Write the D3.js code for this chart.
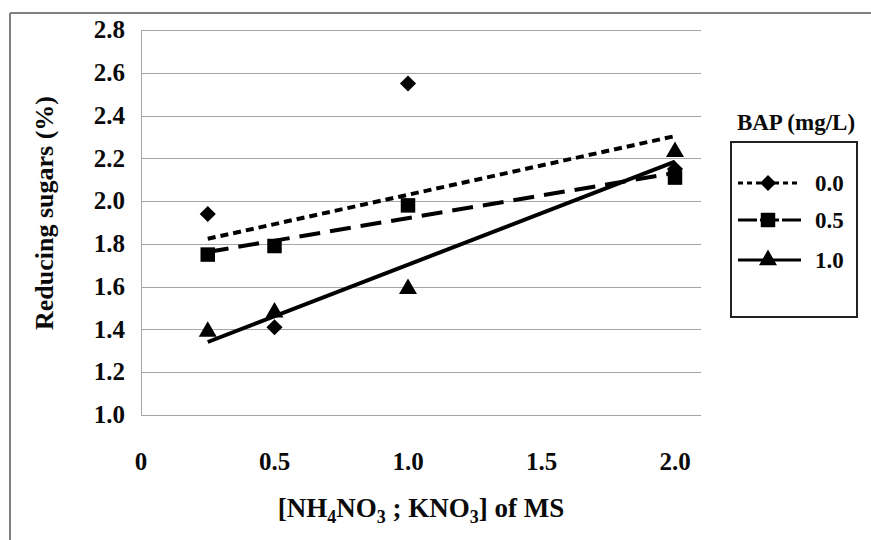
<!DOCTYPE html>
<html>
<head>
<meta charset="utf-8">
<script src="https://cdn.jsdelivr.net/npm/d3@7"></script>
<style>
  body { margin: 0; background: #fff; }
  text { font-family: "Liberation Serif", "Times New Roman", serif; font-weight: bold; fill: #0a0a0a; }
</style>
</head>
<body>
<script>
var width = 871, height = 540;

// data
var nitrate = [0.25, 0.5, 1.0, 2.0];
var bap = ["0.0", "0.5", "1.0"];
var sugars00 = [1.94, 1.41, 2.55, 2.15];
var sugars05 = [1.75, 1.79, 1.98, 2.11];
var sugars10 = [1.39, 1.48, 1.59, 2.23];
var yTicks = [1.0, 1.2, 1.4, 1.6, 1.8, 2.0, 2.2, 2.4, 2.6, 2.8];
var xTicks = [0, 0.5, 1.0, 1.5, 2.0];

var diamond = {
  draw: function(ctx, size) {
    var r = Math.sqrt(size / 2);
    ctx.moveTo(0, -r); ctx.lineTo(r, 0); ctx.lineTo(0, r); ctx.lineTo(-r, 0); ctx.closePath();
  }
};

var series = [
  { name: bap[0], values: sugars00, symbol: diamond, size: 130, dash: "8,5", legDash: "5,4" },
  { name: bap[1], values: sugars05, symbol: d3.symbolSquare, size: 210, dash: "21,10", legDash: "19,3" },
  { name: bap[2], values: sugars10, symbol: d3.symbolTriangle, size: 140, dash: null, legDash: null }
];

var svg = d3.select("body").append("svg")
    .attr("width", width)
    .attr("height", height);

// outer frame (top + left only visible)
svg.append("line").attr("x1", 10).attr("x2", width).attr("y1", 13).attr("y2", 13)
   .attr("stroke", "#808080").attr("stroke-width", 2);
svg.append("line").attr("x1", 10).attr("x2", 10).attr("y1", 13).attr("y2", height)
   .attr("stroke", "#808080").attr("stroke-width", 2);

var x = d3.scaleLinear().domain([0, 2.0]).range([141, 675]);
var y = d3.scaleLinear().domain([1.0, 2.8]).range([415, 30]);
var plotRight = 701;

// gridlines
svg.append("g").selectAll("line")
  .data(yTicks)
  .enter().append("line")
  .attr("x1", x(0)).attr("x2", plotRight)
  .attr("y1", function(d) { return Math.round(y(d)) + 0.5; })
  .attr("y2", function(d) { return Math.round(y(d)) + 0.5; })
  .attr("stroke", "#a6a6a6").attr("stroke-width", 1);

svg.append("line")
  .attr("x1", x(0) + 0.5).attr("x2", x(0) + 0.5)
  .attr("y1", y(2.8)).attr("y2", y(1.0))
  .attr("stroke", "#a6a6a6").attr("stroke-width", 1);

// y tick labels
svg.append("g").selectAll("text")
  .data(yTicks)
  .enter().append("text")
  .attr("x", 125)
  .attr("y", function(d) { return y(d); })
  .attr("dy", "0.33em")
  .attr("text-anchor", "end")
  .attr("font-size", "25px")
  .text(function(d) { return d.toFixed(1); });

// x tick labels
svg.append("g").selectAll("text")
  .data(xTicks)
  .enter().append("text")
  .attr("x", function(d) { return x(d); })
  .attr("y", 462)
  .attr("dy", "0.33em")
  .attr("text-anchor", "middle")
  .attr("font-size", "25px")
  .text(function(d) { return d === 0 ? "0" : d.toFixed(1); });

// axis titles
svg.append("text")
  .attr("transform", "translate(53,213) rotate(-90)")
  .attr("text-anchor", "middle")
  .attr("font-size", "26px")
  .text("Reducing sugars (%)");

var xt = svg.append("text")
  .attr("x", 421).attr("y", 517)
  .attr("text-anchor", "middle")
  .attr("font-size", "27px");
xt.append("tspan").text("[NH");
xt.append("tspan").attr("font-size", "18px").attr("dy", 6).text("4");
xt.append("tspan").attr("dy", -6).text("NO");
xt.append("tspan").attr("font-size", "18px").attr("dy", 6).text("3");
xt.append("tspan").attr("dy", -6).text(" ; KNO");
xt.append("tspan").attr("font-size", "18px").attr("dy", 6).text("3");
xt.append("tspan").attr("dy", -6).text("] of MS");

// linear trendlines (least squares)
function fit(xs, ys) {
  var mx = d3.mean(xs), my = d3.mean(ys);
  var sxy = d3.sum(xs, function(v, i) { return (v - mx) * (ys[i] - my); });
  var sxx = d3.sum(xs, function(v) { return (v - mx) * (v - mx); });
  var b = sxy / sxx;
  return function(v) { return my + b * (v - mx); };
}

series.forEach(function(s) {
  var f = fit(nitrate, s.values);
  var x0 = d3.min(nitrate), x1 = d3.max(nitrate);
  svg.append("line")
    .attr("x1", x(x0)).attr("y1", y(f(x0)))
    .attr("x2", x(x1)).attr("y2", y(f(x1)))
    .attr("stroke", "#000")
    .attr("stroke-width", 4)
    .attr("stroke-dasharray", s.dash);
});

// markers
series.forEach(function(s) {
  svg.append("g").selectAll("path")
    .data(s.values)
    .enter().append("path")
    .attr("transform", function(d, i) {
      return "translate(" + x(nitrate[i]) + "," + y(d) + ")";
    })
    .attr("d", d3.symbol().type(s.symbol).size(s.size))
    .attr("fill", "#000");
});

// legend
svg.append("text")
  .attr("x", 796).attr("y", 130)
  .attr("text-anchor", "middle")
  .attr("font-size", "23px")
  .text("BAP (mg/L)");

svg.append("rect")
  .attr("x", 731).attr("y", 142)
  .attr("width", 126).attr("height", 175)
  .attr("fill", "none")
  .attr("stroke", "#222")
  .attr("stroke-width", 2);

var leg = svg.append("g").selectAll("g")
  .data(series)
  .enter().append("g")
  .attr("transform", function(d, i) {
    return "translate(0," + [183, 220, 260][i] + ")";
  });

leg.append("line")
  .attr("x1", 738).attr("x2", 801)
  .attr("y1", 0).attr("y2", 0)
  .attr("stroke", "#000")
  .attr("stroke-width", 3)
  .attr("stroke-dasharray", function(d) { return d.legDash; });

leg.append("path")
  .attr("transform", "translate(768,0)")
  .attr("d", function(d) {
    return d3.symbol().type(d.symbol).size(d.size)();
  })
  .attr("fill", "#000");

leg.append("text")
  .attr("x", 815).attr("y", 0)
  .attr("dy", "0.33em")
  .attr("font-size", "23px")
  .text(function(d) { return d.name; });
</script>
</body>
</html>
